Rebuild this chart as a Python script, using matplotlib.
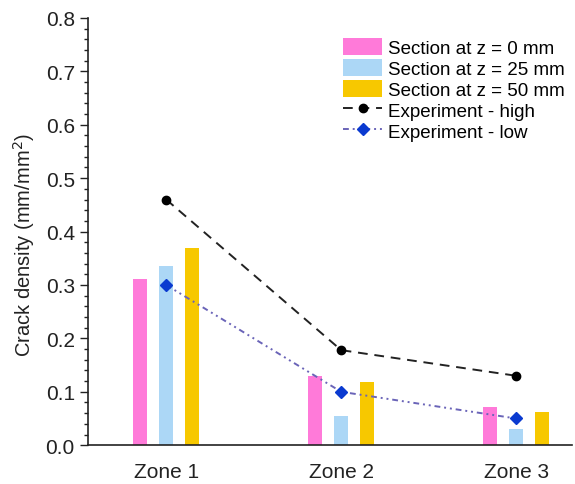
import numpy as np
import matplotlib.pyplot as plt
from matplotlib.ticker import MultipleLocator

plt.rcParams['font.family'] = ['Liberation Sans', 'DejaVu Sans']

# data
zones = ["Zone 1", "Zone 2", "Zone 3"]
sec_z0 = [0.312, 0.130, 0.071]
sec_z25 = [0.335, 0.055, 0.031]
sec_z50 = [0.369, 0.119, 0.063]
exp_high = [0.46, 0.178, 0.13]
exp_low = [0.30, 0.10, 0.05]

x = np.arange(len(zones))
w = 0.08
off = 0.15

fig = plt.figure(figsize=(5.75, 4.85), dpi=100)
ax = fig.add_axes([0.153, 0.080, 0.842, 0.881])

b0 = ax.bar(x - off, sec_z0, w, color="#ff7ad9", label="Section at z = 0 mm")
b1 = ax.bar(x, sec_z25, w, color="#acd7f6", label="Section at z = 25 mm")
b2 = ax.bar(x + off, sec_z50, w, color="#f7c800", label="Section at z = 50 mm")
l0, = ax.plot(x, exp_high, color="#222222", ls=(0, (5, 3.5)), lw=1.4,
              marker="o", ms=6, mfc="black", mec="black", label="Experiment - high")
l1, = ax.plot(x, exp_low, color="#6a64b8", ls=(0, (3, 2, 1, 2, 1, 2)), lw=1.4,
              marker="D", ms=6, mfc="#0a3ad0", mec="#0a3ad0", label="Experiment - low")

ax.set_xlim(-0.447, 2.32)
ax.set_ylim(0, 0.8)
ax.set_xticks(x)
ax.set_xticklabels(zones)
ax.yaxis.set_major_locator(MultipleLocator(0.1))
ax.yaxis.set_minor_locator(MultipleLocator(0.02))
ax.yaxis.set_major_formatter(lambda v, p: f"{v:.1f}")
ax.tick_params(axis="x", length=0, labelsize=15, pad=12, colors="#222222")
ax.tick_params(axis="y", which="major", length=6, width=1, labelsize=15, colors="#222222")
ax.tick_params(axis="y", which="minor", length=3, width=1, colors="#222222")
ax.set_ylabel("Crack density (mm/mm$^2$)", fontsize=14.5, color="#222222")
ax.yaxis.set_label_coords(-0.105, 0.47)

for s in ["top", "right"]:
    ax.spines[s].set_visible(False)
for s in ["left", "bottom"]:
    ax.spines[s].set_color("#222222")
    ax.spines[s].set_linewidth(1.2)

ax.legend(handles=[b0, b1, b2, l0, l1], loc="upper right", bbox_to_anchor=(1.008, 0.98),
          frameon=False, fontsize=13.5, handlelength=2.1, handleheight=1.05,
          handletextpad=0.3, labelspacing=0.1, borderaxespad=0.2)

fig.savefig("out.png", dpi=100)
